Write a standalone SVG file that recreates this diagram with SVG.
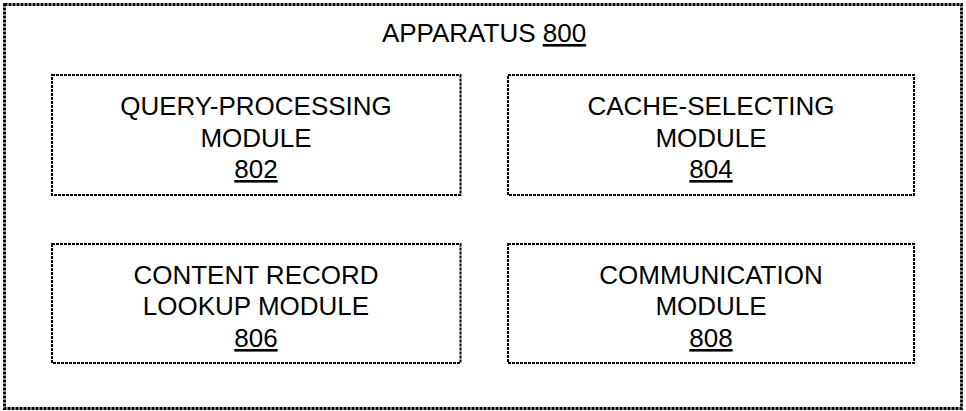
<svg xmlns="http://www.w3.org/2000/svg" width="966" height="411" viewBox="0 0 966 411">
<style>
.box{fill:none;stroke:#000;stroke-width:2;stroke-dasharray:3 1}
.outer{fill:none;stroke:#000;stroke-width:2.8;stroke-dasharray:3 1}
text{font-family:"Liberation Sans",Arial,sans-serif;font-size:26px;fill:#000;text-anchor:middle}
.u{text-decoration:underline}
</style>
<rect width="966" height="411" fill="#fff"/>
<g id="apparatus">
<rect class="outer" x="4.5" y="4.5" width="957" height="404"/>
<text x="484" y="42">APPARATUS <tspan class="u">800</tspan></text>
</g>
<g id="n802">
<rect class="box" x="52" y="75" width="408.5" height="120"/>
<text x="256" y="115">QUERY-PROCESSING</text>
<text x="256" y="147">MODULE</text>
<text x="256" y="178" class="u">802</text>
</g>
<g id="n804">
<rect class="box" x="508" y="75" width="406" height="120"/>
<text x="711" y="115">CACHE-SELECTING</text>
<text x="711" y="147">MODULE</text>
<text x="711" y="178" class="u">804</text>
</g>
<g id="n806">
<rect class="box" x="52" y="244" width="408.5" height="119"/>
<text x="256" y="284">CONTENT RECORD</text>
<text x="256" y="315">LOOKUP MODULE</text>
<text x="256" y="347" class="u">806</text>
</g>
<g id="n808">
<rect class="box" x="508" y="244" width="406" height="119"/>
<text x="711" y="284">COMMUNICATION</text>
<text x="711" y="315">MODULE</text>
<text x="711" y="347" class="u">808</text>
</g>
<g id="connectors"></g>
</svg>
